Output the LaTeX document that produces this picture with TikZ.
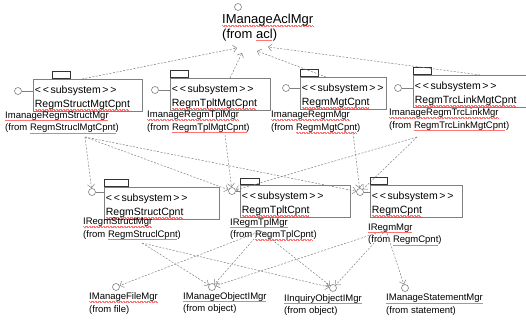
\documentclass[tikz,border=0pt]{standalone}
\usepackage{fontspec}
\setmainfont{Liberation Sans}
\usetikzlibrary{calc,arrows.meta}
\newlength\spellwd
\newcommand\spell[1]{\leavevmode\settowidth\spellwd{#1}\rlap{\color{red!55}\raisebox{-2.4pt}{\hbox to\spellwd{\leaders\hbox{\rule[0.25pt]{0.7pt}{0.45pt}\rule[-0.25pt]{0.7pt}{0.45pt}}\hfill}}}#1}
\newcommand\subsys{\rule{0pt}{13pt}\textless\kern2pt\textless\kern1.5pt subsystem\kern1.5pt\textgreater\kern2pt\textgreater}
\tikzset{ pkg/.style = { rectangle % subsystem box
        , draw = gray
        , line width = 0.7pt
        , anchor = north west
        , align = left
        , inner sep = 1.5pt
        , minimum height = 30pt
        , font = \fontsize{10.5}{13.5}\selectfont
        }
        , tab/.style = { rectangle % tab on top of the box
        , draw = black!80
        , line width = 0.7pt
        , anchor = south west
        , minimum width = 18pt
        , minimum height = 7pt
        , inner sep = 0pt
        }
        , ifc/.style = { circle % interface
        , draw = gray
        , line width = 0.6pt
        , minimum size = 7pt
        , inner sep = 0pt
        }
        , lbl/.style = { anchor = north west % interface name
        , align = left
        , inner sep = 0pt
        , font = \fontsize{9.5}{12.7}\selectfont
        }
        }

\begin{document}
\begin{tikzpicture}[x=1pt, y=-1pt,
        dep/.style={draw=gray, line width=0.5pt, dash pattern=on 2pt off 1.5pt,
                    -{Straight Barb[length=3.5pt,width=7pt]}},
        stem/.style={draw=gray, line width=0.6pt}]
        \useasboundingbox (0,0) rectangle (526,320);

        % top interface
        \node [ifc] (i0) at (238,7) {};
        \node [lbl, font=\fontsize{13}{14.5}\selectfont] (acl) at (222,14) {\spell{IManageAclMgr}\\(from \spell{acl})};

        % first row of subsystems
        \node [pkg, text width=106pt] (b1) at (33,79) {\subsys\\\spell{RegmStructMgtCpnt}};
        \node [pkg, text width=97pt] (b2) at (170,78) {\subsys\\\spell{RegmTpltMgtCpnt}};
        \node [pkg, text width=83pt] (b3) at (300,77) {\subsys\\\spell{RegmMgtCpnt}};
        \node [pkg, text width=117pt] (b4) at (413,75) {\subsys\\\spell{RegmTrcLinkMgtCpnt}};
        \node [tab] (t1) at ([xshift=19pt]b1.north west) {};
        \node [tab] (t2) at (b2.north west) {};
        \node [tab] (t3) at (b3.north west) {};
        \node [tab] (t4) at (b4.north west) {};
        \node [ifc] (i1) at (18,91) {};
        \node [ifc] (i2) at (155,90) {};
        \node [ifc] (i3) at (286,88) {};
        \node [ifc] (i4) at (398,88) {};
        \draw [stem] (i1.east) -- (i1.east -| b1.west);
        \draw [stem] (i2.east) -- (i2.east -| b2.west);
        \draw [stem] (i3.east) -- (i3.east -| b3.west);
        \draw [stem] (i4.east) -- (i4.east -| b4.west);
        \node [lbl] (l1) at (5,111.4) {\spell{ImanageRegmStructMgr}\\(from \spell{RegmStruclMgtCpnt})};
        \node [lbl] (l2) at (147,110.5) {\spell{ImanageRegmTplMgr}\\(from \spell{RegmTplMgtCpnt})};
        \node [lbl] (l3) at (271,111) {\spell{ImanageRegmMgr}\\(from \spell{RegmMgtCpnt})};
        \node [lbl] (l4) at (389,108.5) {\spell{ImanageRegmTrcLinkMgr}\\(from \spell{RegmTrcLinkMgtCpnt})};

        % second row of subsystems
        \node [pkg, text width=112pt] (b5) at (104,187) {\subsys\\\spell{RegmStructCpnt}};
        \node [pkg, text width=107pt, minimum height=31pt] (b6) at (240,185) {\subsys\\\spell{RegmTpltCpnt}};
        \node [pkg, text width=89pt] (b7) at (370,185) {\subsys\\\spell{RegmCpnt}};
        \node [tab, minimum width=24pt] (t5) at (b5.north west) {};
        \node [tab, minimum width=19pt, minimum height=6pt] (t6) at (b6.north west) {};
        \node [tab, minimum width=17pt] (t7) at (b7.north west) {};
        \node [ifc] (i5) at (92,192) {};
        \node [ifc] (i6) at (232,191) {};
        \node [ifc] (i7) at (360,192) {};
        \draw [stem] (i5.east) -- (i5.east -| b5.west);
        \draw [stem] (i6.east) -- (i6.east -| b6.west);
        \draw [stem] (i7.east) -- (i7.east -| b7.west);
        \node [lbl] (l5) at (83,217.5) {\spell{IRegmStructMgr}\\(from \spell{RegmStruclCpnt})};
        \node [lbl] (l6) at (230,218) {\spell{IRegmTplMgr}\\(from \spell{RegmTplCpnt})};
        \node [lbl] (l7) at (368,223.5) {\spell{IRegmMgr}\\(from \spell{RegmCpnt})};

        % used interfaces
        \node [ifc] (m1) at (116,287) {};
        \node [ifc] (m2) at (212,287) {};
        \node [ifc] (m3) at (333,288) {};
        \node [ifc] (m4) at (405,288) {};
        \node [lbl] (k1) at (89,292.5) {\spell{IManageFileMgr}\\(from file)};
        \node [lbl] (k2) at (183,292) {\spell{IManageObjectIMgr}\\(from object)};
        \node [lbl] (k3) at (284,294) {\spell{IInquiryObjectIMgr}\\(from object)};
        \node [lbl] (k4) at (386,294) {\spell{IManageStatementMgr}\\(from statement)};

        % dependencies
        \draw [dep] ([xshift=49pt]b1.north west) -- ([shift={(15,34)}]acl.north west);
        \draw [dep] ([xshift=60pt]b2.north west) -- ([shift={(20,39)}]acl.north west);
        \draw [dep] ([xshift=26pt]b3.north west) -- ([shift={(35,37)}]acl.north west);
        \draw [dep] ([xshift=67pt]b4.north west) -- ([shift={(46,33)}]acl.north west);

        \draw [dep] ([shift={(80,25.6)}]l1.north west) -- (i5);
        \draw [dep] ([shift={(80,25.6)}]l1.north west) -- (i6);
        \draw [dep] ([shift={(80,25.6)}]l1.north west) -- (i7);
        \draw [dep] ([shift={(78,24.5)}]l2.north west) -- (i6);
        \draw [dep] ([shift={(82,22)}]l3.north west) -- (i7);
        \draw [dep] ([shift={(28,28.5)}]l4.north west) -- (i6);
        \draw [dep] ([shift={(28,28.5)}]l4.north west) -- (i7);

        \draw [dep] ([shift={(59,25.5)}]l5.north west) -- (m2);
        \draw [dep] ([shift={(59,25.5)}]l5.north west) -- (m3);
        \draw [dep] ([shift={(31,13)}]l6.north west) -- (m1);
        \draw [dep] ([shift={(31,13)}]l6.north west) -- (m2);
        \draw [dep] ([shift={(31,13)}]l6.north west) -- (m3);
        \draw [dep] ([shift={(18,6.5)}]l7.north west) -- (m2);
        \draw [dep] ([shift={(18,6.5)}]l7.north west) -- (m3);
        \draw [dep] ([shift={(18,6.5)}]l7.north west) -- (m4);
\end{tikzpicture}
\end{document}
